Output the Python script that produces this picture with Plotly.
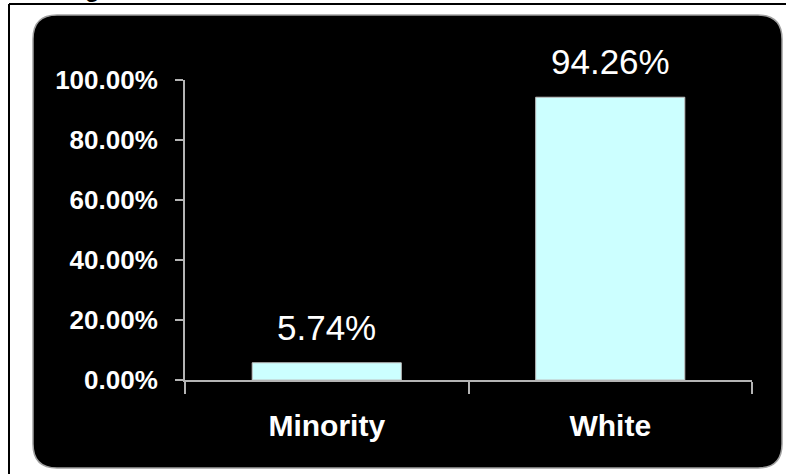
import plotly.graph_objects as go

# Share of each group
categories = ["Minority", "White"]
shares = [0.0574, 0.9426]
label_text = ["5.74%", "94.26%"]
y_ticks = [0, 0.2, 0.4, 0.6, 0.8, 1.0]

W, H = 786, 474
L, R, T, B = 185, 34, 80, 94
PW, PH = W - L - R, H - T - B


def px_x(x):
    return (x - L) / PW


def px_y(y):
    return (H - B - y) / PH


def rounded_rect(x0, y0, x1, y1, r):
    # SVG path in paper units for a rectangle with rounded corners (pixel inputs)
    pts = [
        f"M {px_x(x0 + r)},{px_y(y0)}",
        f"L {px_x(x1 - r)},{px_y(y0)}",
        f"Q {px_x(x1)},{px_y(y0)} {px_x(x1)},{px_y(y0 + r)}",
        f"L {px_x(x1)},{px_y(y1 - r)}",
        f"Q {px_x(x1)},{px_y(y1)} {px_x(x1 - r)},{px_y(y1)}",
        f"L {px_x(x0 + r)},{px_y(y1)}",
        f"Q {px_x(x0)},{px_y(y1)} {px_x(x0)},{px_y(y1 - r)}",
        f"L {px_x(x0)},{px_y(y0 + r)}",
        f"Q {px_x(x0)},{px_y(y0)} {px_x(x0 + r)},{px_y(y0)}",
        "Z",
    ]
    return " ".join(pts)


FONT = "Arial, Liberation Sans, sans-serif"

fig = go.Figure(
    go.Bar(
        x=categories,
        y=shares,
        width=0.526,
        marker=dict(color="#CCFFFF", line=dict(color="#BFBFBF", width=1)),
        hoverinfo="skip",
    )
)

shapes = [
    # outer frame: top and left edges
    dict(type="line", xref="paper", yref="paper",
         x0=px_x(9), y0=px_y(4), x1=px_x(790), y1=px_y(4),
         line=dict(color="black", width=2), layer="below"),
    dict(type="line", xref="paper", yref="paper",
         x0=px_x(9), y0=px_y(4), x1=px_x(9), y1=px_y(480),
         line=dict(color="black", width=2), layer="below"),
    # black rounded panel
    dict(type="path", xref="paper", yref="paper",
         path=rounded_rect(33, 15, 782, 468, 24),
         line=dict(color="#A0A0A0", width=1.5), fillcolor="black", layer="below"),
]

annotations = [
    dict(x=c, y=v, xref="x", yref="y", text=t, showarrow=False,
         yanchor="bottom", yshift=14,
         font=dict(family=FONT, size=35, color="white"))
    for c, v, t in zip(categories, shares, label_text)
]
# bottom of the heading above the panel
annotations.append(
    dict(x=px_x(92), y=px_y(-12), xref="paper", yref="paper", text="<b>g</b>",
         showarrow=False, xanchor="center", yanchor="middle",
         font=dict(family=FONT, size=24, color="black"))
)

fig.update_layout(
    width=W, height=H,
    margin=dict(l=L, r=R, t=T, b=B),
    paper_bgcolor="white",
    plot_bgcolor="rgba(0,0,0,0)",
    showlegend=False,
    shapes=shapes,
    annotations=annotations,
    bargap=0.474,
)

fig.update_xaxes(
    showgrid=False, zeroline=False,
    showline=True, linecolor="#B4B4B4", linewidth=2,
    ticks="outside", tickson="boundaries", ticklen=12, tickwidth=2,
    tickcolor="#B4B4B4",
    ticklabelstandoff=18,
    tickfont=dict(family=FONT, size=30, color="white", weight="bold"),
)

fig.update_yaxes(
    range=[0, 1], tickvals=y_ticks, tickformat=".2%",
    showgrid=False, zeroline=False,
    showline=True, linecolor="#B4B4B4", linewidth=2,
    ticks="outside", ticklen=8, tickwidth=2, tickcolor="#B4B4B4",
    ticklabelstandoff=12,
    tickfont=dict(family=FONT, size=26, color="white", weight="bold"),
)

fig.write_html("out.html")
